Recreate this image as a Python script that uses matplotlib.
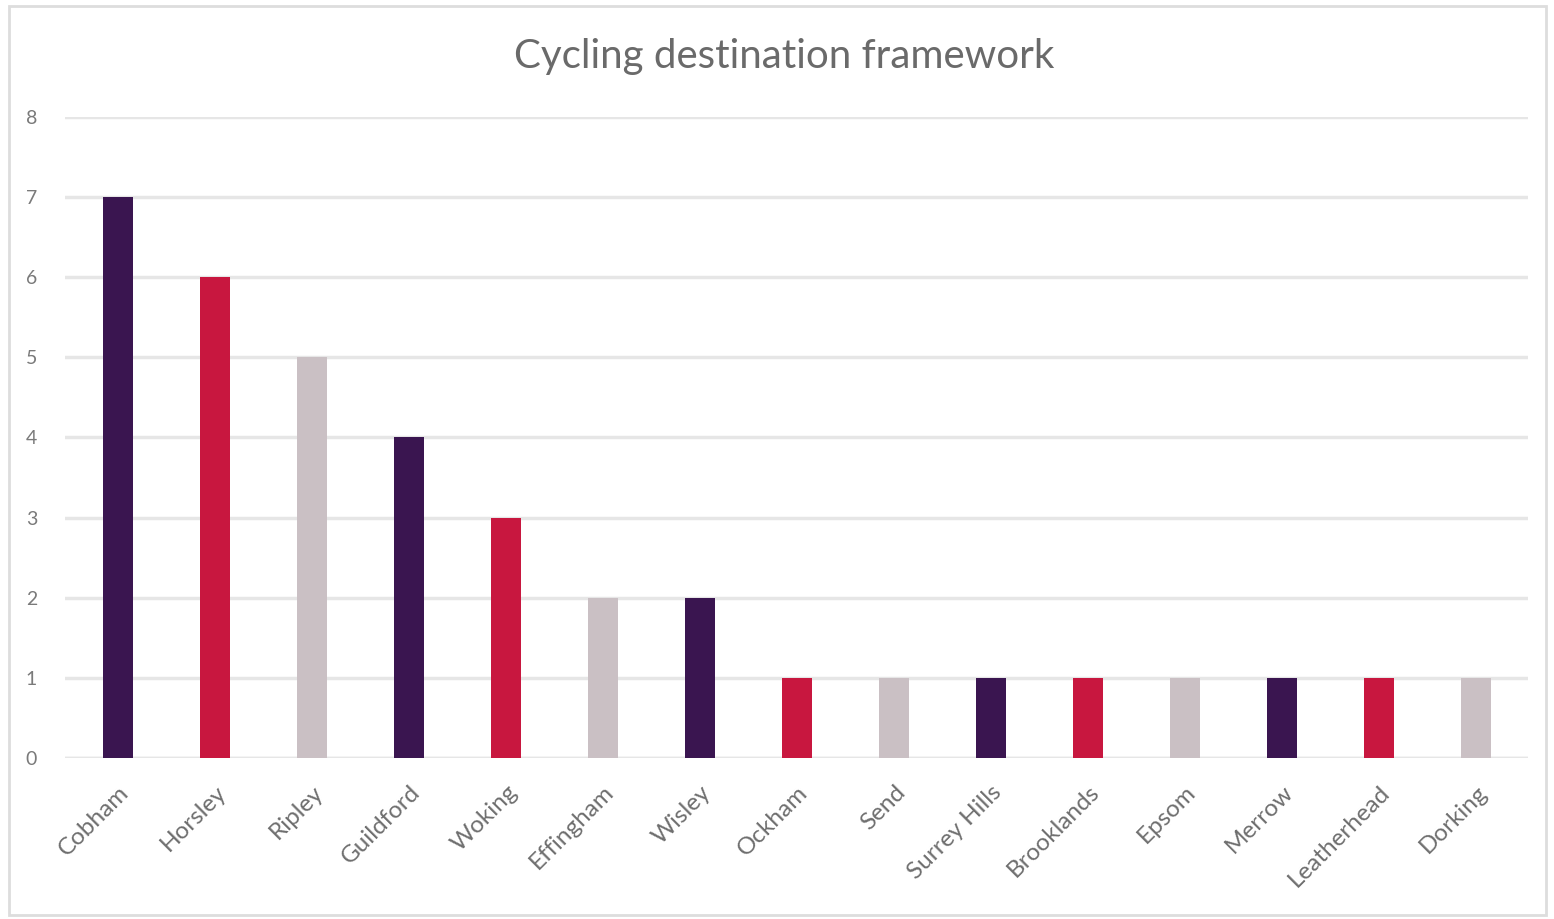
import matplotlib
matplotlib.use("Agg")
import matplotlib.pyplot as plt
import matplotlib.transforms as mtransforms
from matplotlib.patches import Rectangle

categories = ["Cobham", "Horsley", "Ripley", "Guildford", "Woking", "Effingham", "Wisley",
              "Ockham", "Send", "Surrey Hills", "Brooklands", "Epsom", "Merrow",
              "Leatherhead", "Dorking"]
values = [7, 6, 5, 4, 3, 2, 2, 1, 1, 1, 1, 1, 1, 1, 1]
palette = ["#3A1550", "#C8173F", "#CAC0C4"]
y_ticks = [0, 1, 2, 3, 4, 5, 6, 7, 8]
title = "Cycling destination framework"

plt.rcParams['font.family'] = ['Lato', 'DejaVu Sans']

fig = plt.figure(figsize=(15.54, 9.19), dpi=100)
ax = fig.add_axes([0.0418, 0.1752, 0.9412, 0.6975])

colors = [palette[i % 3] for i in range(len(categories))]
x = list(range(len(categories)))
ax.bar(x, values, width=0.31, color=colors, zorder=3)

ax.set_xlim(-0.55, len(categories) - 0.47)
ax.set_ylim(0, 8)
ax.set_yticks(y_ticks)
ax.set_yticklabels([str(t) for t in y_ticks], fontsize=14, color="#7a7a7a")
ax.set_xticks(x)
ax.set_xticklabels(categories, rotation=45, ha="right", rotation_mode="anchor",
                   fontsize=17.5, color="#6e6e6e")
offset = mtransforms.ScaledTranslation(-6 / 100, 0, fig.dpi_scale_trans)
for lbl in ax.get_xticklabels():
    lbl.set_transform(lbl.get_transform() + offset)
ax.tick_params(axis="both", length=0)
ax.tick_params(axis="y", pad=20)
ax.tick_params(axis="x", pad=17)
ax.grid(axis="y", color="#E6E6E6", linewidth=2.5, zorder=0)
for s in ax.spines.values():
    s.set_visible(False)
ax.axhline(0, color="#E6E6E6", linewidth=2.5, zorder=1)

fig.text(0.5045, 0.938, title, ha="center", va="center", fontsize=29, color="#6a6a6a")

fig.patches.append(Rectangle((0.006, 0.004), 0.989, 0.99, transform=fig.transFigure,
                             fill=False, edgecolor="#DDDDDD", linewidth=2))

fig.savefig("out.png", dpi=100)
